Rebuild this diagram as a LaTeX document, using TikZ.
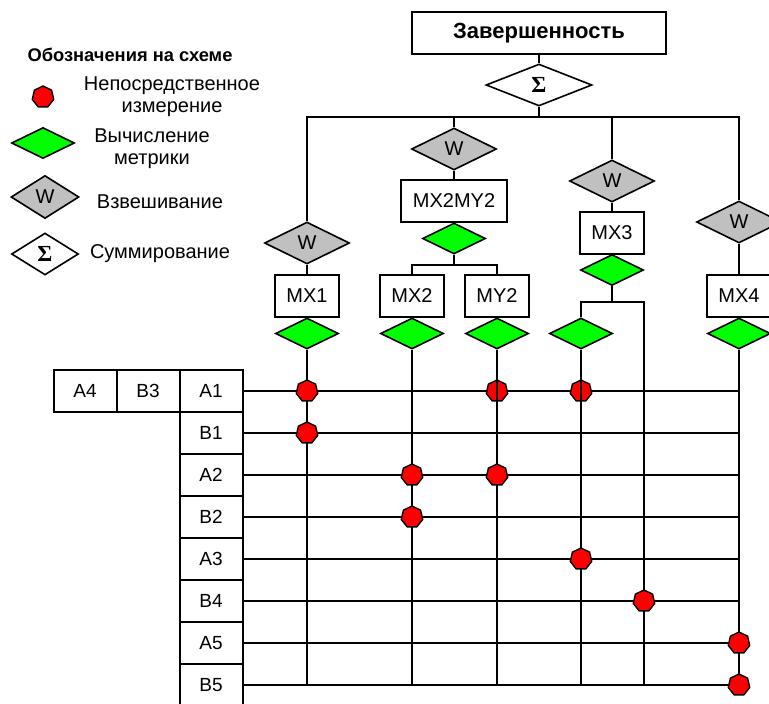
\documentclass[tikz,border=0pt]{standalone}
\usepackage{fontspec}
\setmainfont{Liberation Sans}
\newfontfamily\sigmafont{Liberation Serif}
\usetikzlibrary{shapes.geometric}

\definecolor{metricgreen}{RGB}{0,255,0}
\definecolor{weightgray}{RGB}{192,192,192}
\definecolor{measred}{RGB}{255,0,0}

\tikzset{
  every node/.style={font=\fontsize{20}{22}\selectfont, line width=2pt, inner sep=0pt},
  wire/.style={line width=2pt},
  lbl/.style={draw, fill=white, minimum width=64pt, minimum height=42pt},
  rowbox/.style={draw, fill=white, minimum width=63pt, minimum height=42pt, font=\fontsize{19}{20}\selectfont},
  calcnode/.style={diamond, draw, fill=metricgreen, minimum width=63pt, minimum height=31pt, line width=1.6pt},
  weightnode/.style={diamond, draw, fill=weightgray, minimum width=85pt, minimum height=42pt, line width=1.6pt},
  sumnode/.style={diamond, draw, fill=white, minimum width=106pt, minimum height=42pt, line width=1.6pt,
    font=\fontsize{23}{23}\sigmafont\bfseries},
  measnode/.style={regular polygon, regular polygon sides=7, draw, fill=measred,
    minimum size=22pt, line width=1.4pt},
  legtext/.style={align=center},
}

\begin{document}
\begin{tikzpicture}[x=1pt,y=-1pt]
\useasboundingbox (0,0) rectangle (769,704);

% ---------- legend ----------
\node[font=\fontsize{18.3}{20}\selectfont\bfseries] (legtitle) at (130,55) {Обозначения на схеме};
\node[measnode] (lmeas) at (43,97) {};
\node[legtext] (lmeastxt) at (172,97) {Непосредственное\\измерение};
\node[calcnode] (lcalc) at (43,143) {};
\node[legtext] (lcalctxt) at (152,149) {Вычисление\\метрики};
\node[weightnode, minimum width=68pt, minimum height=43pt] (lweight) at (45,197) {W};
\node[legtext] (lweighttxt) at (160,202) {Взвешивание};
\node[sumnode, minimum width=67pt, minimum height=42pt] (lsum) at (45,254) {Σ};
\node[legtext] (lsumtxt) at (160,254) {Суммирование};

% ---------- tree ----------
\node[draw, fill=white, minimum width=254pt, minimum height=42pt,
      font=\fontsize{22}{24}\selectfont\bfseries] (top) at (539,33) {Завершенность};
\node[sumnode] (sum) at (539,85) {Σ};
\coordinate (bus) at (539,117);

\node[weightnode] (w1) at (307,243) {W};
\node[weightnode] (w2) at (454,149) {W};
\node[weightnode] (w3) at (612,181) {W};
\node[weightnode] (w4) at (739,222) {W};

\node[lbl, minimum width=106pt, minimum height=42pt] (bmx2my2) at (454,201) {MX2MY2};
\node[calcnode] (g2) at (454,238.5) {};
\coordinate (j2) at (454,265);

\node[lbl, minimum width=64pt, minimum height=42pt] (bmx3) at (612,233) {MX3};
\node[calcnode] (g3) at (612,270) {};
\coordinate (j3r) at (644,302);

\node[lbl] (bmx1) at (307,296) {MX1};
\node[lbl] (bmx2) at (412,296) {MX2};
\node[lbl] (bmy2) at (497,296) {MY2};
\node[lbl] (bmx4) at (739,296) {MX4};

\node[calcnode] (gmx1) at (307,333.5) {};
\node[calcnode] (gmx2) at (412,333.5) {};
\node[calcnode] (gmy2) at (497,333.5) {};
\node[calcnode] (gmx3) at (581,333.5) {};
\node[calcnode] (gmx4) at (739,333.5) {};

% ---------- table of rows ----------
\node[rowbox] (ta4) at (85,391) {A4};
\node[rowbox] (tb3) at (148,391) {B3};
\node[rowbox] (ra1) at (211,391) {A1};
\node[rowbox] (rb1) at (211,433) {B1};
\node[rowbox] (ra2) at (211,475) {A2};
\node[rowbox] (rb2) at (211,517) {B2};
\node[rowbox] (ra3) at (211,559) {A3};
\node[rowbox] (rb4) at (211,601) {B4};
\node[rowbox] (ra5) at (211,643) {A5};
\node[rowbox] (rb5) at (211,685) {B5};

% ---------- connectors ----------
\begin{scope}[wire]
  \draw (top.south) -- (sum.north);
  \draw (sum.south) -- (bus);
  \draw (w1.north) |- (bus) -| (w4.north);
  \draw (w2.north) -- (w2.north |- bus);
  \draw (w3.north) -- (w3.north |- bus);

  \draw (w1.south) -- (bmx1.north);
  \draw (w2.south) -- (bmx2my2.north);
  \draw (bmx2my2.south) -- (g2.north);
  \draw (g2.south) -- (j2);
  \draw (bmx2.north) |- (j2) -| (bmy2.north);
  \draw (w3.south) -- (bmx3.north);
  \draw (bmx3.south) -- (g3.north);
  \draw (g3.south) -- (g3.south |- j3r);
  \draw (gmx3.north) |- (j3r) -- (j3r |- rb5);
  \draw (w4.south) -- (bmx4.north);

  \draw (bmx1.south) -- (gmx1.north);
  \draw (bmx2.south) -- (gmx2.north);
  \draw (bmy2.south) -- (gmy2.north);
  \draw (bmx4.south) -- (gmx4.north);

  \foreach \r in {ra1,rb1,ra2,rb2,ra3,rb4,ra5,rb5}
    \draw (\r.east) -- (\r.east -| gmx4.south);
  \foreach \g in {gmx1,gmx2,gmy2,gmx3,gmx4}
    \draw (\g.south) -- (\g.south |- rb5.east);
\end{scope}

% ---------- direct measurements ----------
\node[measnode] (m-mx1-a1) at (gmx1.south |- ra1.east) {};
\node[measnode] (m-mx1-b1) at (gmx1.south |- rb1.east) {};
\node[measnode] (m-mx2-a2) at (gmx2.south |- ra2.east) {};
\node[measnode] (m-mx2-b2) at (gmx2.south |- rb2.east) {};
\node[measnode] (m-my2-a1) at (gmy2.south |- ra1.east) {};
\node[measnode] (m-my2-a2) at (gmy2.south |- ra2.east) {};
\node[measnode] (m-mx3-a1) at (gmx3.south |- ra1.east) {};
\node[measnode] (m-mx3-a3) at (gmx3.south |- ra3.east) {};
\node[measnode] (m-mx3-b4) at (j3r |- rb4.east) {};
\node[measnode] (m-mx4-a5) at (gmx4.south |- ra5.east) {};
\node[measnode] (m-mx4-b5) at (gmx4.south |- rb5.east) {};

% column lines that stay visible across the first row
\draw[wire] (gmy2.south) -- (m-my2-a1.south);
\draw[wire] (gmx3.south) -- (m-mx3-a1.south);
\end{tikzpicture}
\end{document}
